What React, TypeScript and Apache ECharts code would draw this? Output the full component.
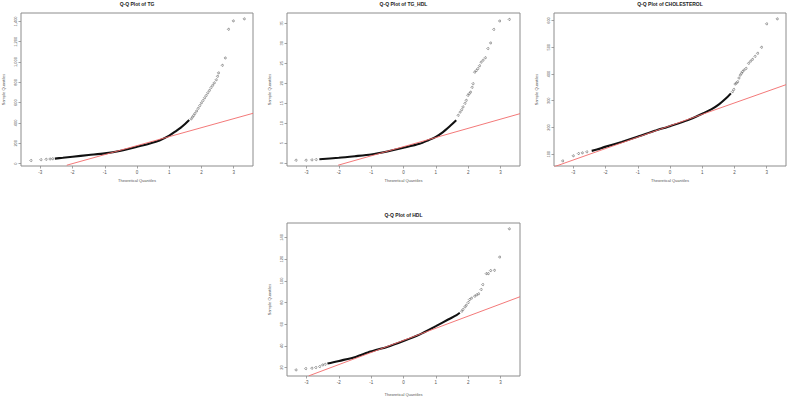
import React, { useEffect, useRef } from "react";
import * as echarts from "echarts";

// ---------- data ----------
const TITLES = ["Q-Q Plot of TG", "Q-Q Plot of TG_HDL", "Q-Q Plot of CHOLESTEROL", "Q-Q Plot of HDL"];
const X_TICKS = [-3, -2, -1, 0, 1, 2, 3];

// TG
const TG_Y_TICKS = [0, 200, 400, 600, 800, 1000, 1200, 1400];
const TG_BODY_Q = [-2.55, -2.3, -2.0, -1.5, -1.0, -0.5, 0, 0.4, 0.7, 1.0, 1.2, 1.35, 1.5, 1.62];
const TG_BODY_V = [49, 57, 67, 84, 100, 127, 165, 198, 228, 275, 318, 352, 392, 428];
const TG_TAIL_Q = [-3.29, -2.98, -2.82, -2.7, -2.62, 1.68, 1.72, 1.76, 1.8, 1.85, 1.9, 1.95, 2.0, 2.05, 2.1, 2.15, 2.2, 2.25, 2.3, 2.35, 2.4, 2.46, 2.5, 2.53, 2.65, 2.74, 2.84, 2.99, 3.33];
const TG_TAIL_V = [30, 38, 42, 45, 47, 440, 458, 475, 495, 518, 545, 572, 598, 622, 648, 672, 698, 722, 750, 772, 795, 825, 860, 893, 968, 1040, 1323, 1405, 1425];
const TG_LINE_Q = [-2.18, 3.6];
const TG_LINE_V = [-16, 495];

// TG_HDL
const TH_Y_TICKS = [0, 5, 10, 15, 20, 25, 30, 35];
const TH_BODY_Q = [-2.6, -2.0, -1.5, -1.0, -0.5, 0, 0.5, 0.77, 1.0, 1.22, 1.43, 1.63];
const TH_BODY_V = [1.0, 1.35, 1.75, 2.2, 2.95, 3.85, 4.85, 5.75, 6.6, 7.8, 9.25, 10.75];
const TH_TAIL_Q = [-3.32, -3.01, -2.83, -2.7, 1.69, 1.75, 1.8, 1.84, 1.9, 1.94, 1.99, 2.03, 2.07, 2.12, 2.15, 2.2, 2.25, 2.3, 2.35, 2.4, 2.46, 2.53, 2.61, 2.69, 2.79, 2.97, 3.27];
const TH_TAIL_V = [0.75, 0.75, 0.83, 0.9, 12.0, 12.8, 13.4, 14.1, 15.0, 15.75, 17.0, 17.4, 17.8, 19.0, 19.9, 22.8, 23.2, 23.7, 24.4, 25.3, 25.8, 26.4, 28.7, 30.1, 33.5, 35.6, 36.0];
const TH_LINE_Q = [-2.02, 3.6];
const TH_LINE_V = [-0.5, 12.4];

// CHOLESTEROL
const CH_Y_TICKS = [100, 200, 300, 400, 500, 600];
const CH_BODY_Q = [-2.43, -2.27, -2.02, -1.5, -1.01, -0.47, 0, 0.56, 1.02, 1.28, 1.53, 1.74, 1.89];
const CH_BODY_V = [112.5, 117.5, 127.5, 146, 165, 187.5, 205, 227.5, 252.5, 267.5, 287.5, 309, 327.5];
const CH_TAIL_Q = [-3.33, -3.0, -2.84, -2.72, -2.58, 1.94, 1.98, 2.02, 2.06, 2.1, 2.14, 2.18, 2.22, 2.25, 2.3, 2.36, 2.44, 2.5, 2.56, 2.64, 2.72, 2.84, 3.0, 3.33];
const CH_TAIL_V = [75, 94, 102.5, 105, 109, 334, 342.5, 362.5, 366, 371, 385, 396, 403, 409, 415, 421, 440, 448, 455, 466, 477.5, 500, 587.5, 606];
const CH_LINE_Q = [-3.6, 3.6];
const CH_LINE_V = [53, 360];

// HDL
const HD_Y_TICKS = [20, 40, 60, 80, 100, 120, 140];
const HD_BODY_Q = [-2.35, -2.2, -1.99, -1.48, -1.02, -0.51, 0, 0.51, 1.0, 1.38, 1.64, 1.74];
const HD_BODY_V = [23.7, 24.6, 26.1, 29.8, 34.7, 39, 44.5, 50.6, 58.2, 64.3, 68.3, 70.5];
const HD_TAIL_Q = [-3.32, -3.02, -2.83, -2.71, -2.59, -2.5, -2.42, 1.8, 1.84, 1.9, 1.94, 2.0, 2.04, 2.1, 2.2, 2.26, 2.32, 2.4, 2.45, 2.56, 2.62, 2.69, 2.81, 2.97, 3.27];
const HD_TAIL_V = [17.8, 19, 19.4, 20, 20.9, 22.4, 23, 72, 73.6, 76, 77.5, 80, 82.7, 84, 85.8, 87, 88, 92, 96.5, 106.6, 106.6, 109.4, 109.7, 121.9, 147.9];
const HD_LINE_Q = [-2.93, 3.6];
const HD_LINE_V = [12.3, 85.3];

// ---------- layout / style ----------
const FONT = "'Liberation Sans', Arial, Helvetica, sans-serif";
const GRIDS = [
  { left: 21, top: 13, width: 232, height: 153 },
  { left: 287, top: 13, width: 233, height: 153 },
  { left: 554, top: 13, width: 232, height: 153 },
  { left: 287, top: 223, width: 233, height: 154 },
];
const Y_RANGES = [
  [-24, 1483],
  [-0.7, 37.6],
  [56, 628],
  [12.2, 153.3],
];

const zip = (a: number[], b: number[]) => a.map((v, i) => [v, b[i]]);

const PANELS = [
  { yTicks: TG_Y_TICKS, bq: TG_BODY_Q, bv: TG_BODY_V, tq: TG_TAIL_Q, tv: TG_TAIL_V, lq: TG_LINE_Q, lv: TG_LINE_V },
  { yTicks: TH_Y_TICKS, bq: TH_BODY_Q, bv: TH_BODY_V, tq: TH_TAIL_Q, tv: TH_TAIL_V, lq: TH_LINE_Q, lv: TH_LINE_V },
  { yTicks: CH_Y_TICKS, bq: CH_BODY_Q, bv: CH_BODY_V, tq: CH_TAIL_Q, tv: CH_TAIL_V, lq: CH_LINE_Q, lv: CH_LINE_V },
  { yTicks: HD_Y_TICKS, bq: HD_BODY_Q, bv: HD_BODY_V, tq: HD_TAIL_Q, tv: HD_TAIL_V, lq: HD_LINE_Q, lv: HD_LINE_V },
];

function buildOption() {
  const grid = GRIDS.map((g) => ({
    ...g,
    show: true,
    borderColor: "#8c8c8c",
    borderWidth: 1,
    backgroundColor: "transparent",
    containLabel: false,
  }));
  const xAxis = GRIDS.map((g, i) => ({
    type: "value",
    gridIndex: i,
    min: -3.6,
    max: 3.6,
    position: "bottom",
    name: "Theoretical Quantiles",
    nameLocation: "middle",
    nameGap: i === 3 ? 16 : 12,
    nameTextStyle: { fontSize: 4, color: "#555", fontFamily: FONT },
    axisLine: { show: false, onZero: false },
    axisTick: { show: true, length: 2.5, customValues: X_TICKS, lineStyle: { color: "#8c8c8c", width: 0.8 } },
    axisLabel: { customValues: X_TICKS, fontSize: 4.5, color: "#555", margin: 4, fontFamily: FONT },
    splitLine: { show: false },
  }));
  const yAxis = GRIDS.map((g, i) => ({
    type: "value",
    gridIndex: i,
    min: Y_RANGES[i][0],
    max: Y_RANGES[i][1],
    position: "left",
    name: "Sample Quantiles",
    nameLocation: "middle",
    nameGap: 16,
    nameTextStyle: { fontSize: 4, color: "#555", fontFamily: FONT },
    axisLine: { show: false, onZero: false },
    axisTick: { show: true, length: 2.5, customValues: PANELS[i].yTicks, lineStyle: { color: "#8c8c8c", width: 0.8 } },
    axisLabel: { customValues: PANELS[i].yTicks, fontSize: 4, color: "#555", margin: 4, rotate: 90, fontFamily: FONT },
    splitLine: { show: false },
  }));
  const series: any[] = [];
  PANELS.forEach((p, i) => {
    series.push({
      type: "line",
      xAxisIndex: i,
      yAxisIndex: i,
      data: zip(p.bq, p.bv),
      symbol: "none",
      smooth: 0.25,
      lineStyle: { color: "#111", width: 2.1 },
      z: 2,
      silent: true,
    });
    series.push({
      type: "line",
      xAxisIndex: i,
      yAxisIndex: i,
      data: zip(p.tq, p.tv),
      showSymbol: true,
      symbol: "circle",
      symbolSize: 2,
      lineStyle: { width: 0, opacity: 0 },
      itemStyle: { color: "rgba(255,255,255,0)", borderColor: "#666", borderWidth: 0.6 },
      z: 3,
      silent: true,
    });
    series.push({
      type: "line",
      xAxisIndex: i,
      yAxisIndex: i,
      data: zip(p.lq, p.lv),
      symbol: "none",
      lineStyle: { color: "#f26a6a", width: 0.9 },
      z: 4,
      silent: true,
    });
  });
  const titleCenters = GRIDS.map((g) => g.left + g.width / 2);
  const graphic = TITLES.map((t, i) => ({
    type: "text",
    x: titleCenters[i],
    y: i === 3 ? 215 : 4,
    style: {
      text: t,
      align: "center",
      verticalAlign: "middle",
      textAlign: "center",
      textVerticalAlign: "middle",
      fontSize: 5,
      fontWeight: "bold",
      fontFamily: FONT,
      fill: "#222",
    },
  }));
  return { animation: false, backgroundColor: "#fff", grid, xAxis, yAxis, series, graphic };
}

export default function App() {
  const ref = useRef<HTMLDivElement>(null);
  useEffect(() => {
    if (!ref.current) return;
    const chart = echarts.init(ref.current, null, { renderer: "svg" });
    chart.setOption(buildOption() as any);
    return () => chart.dispose();
  }, []);
  return <div ref={ref} style={{ position: "absolute", left: 0, top: 0, width: 790, height: 397 }} />;
}
